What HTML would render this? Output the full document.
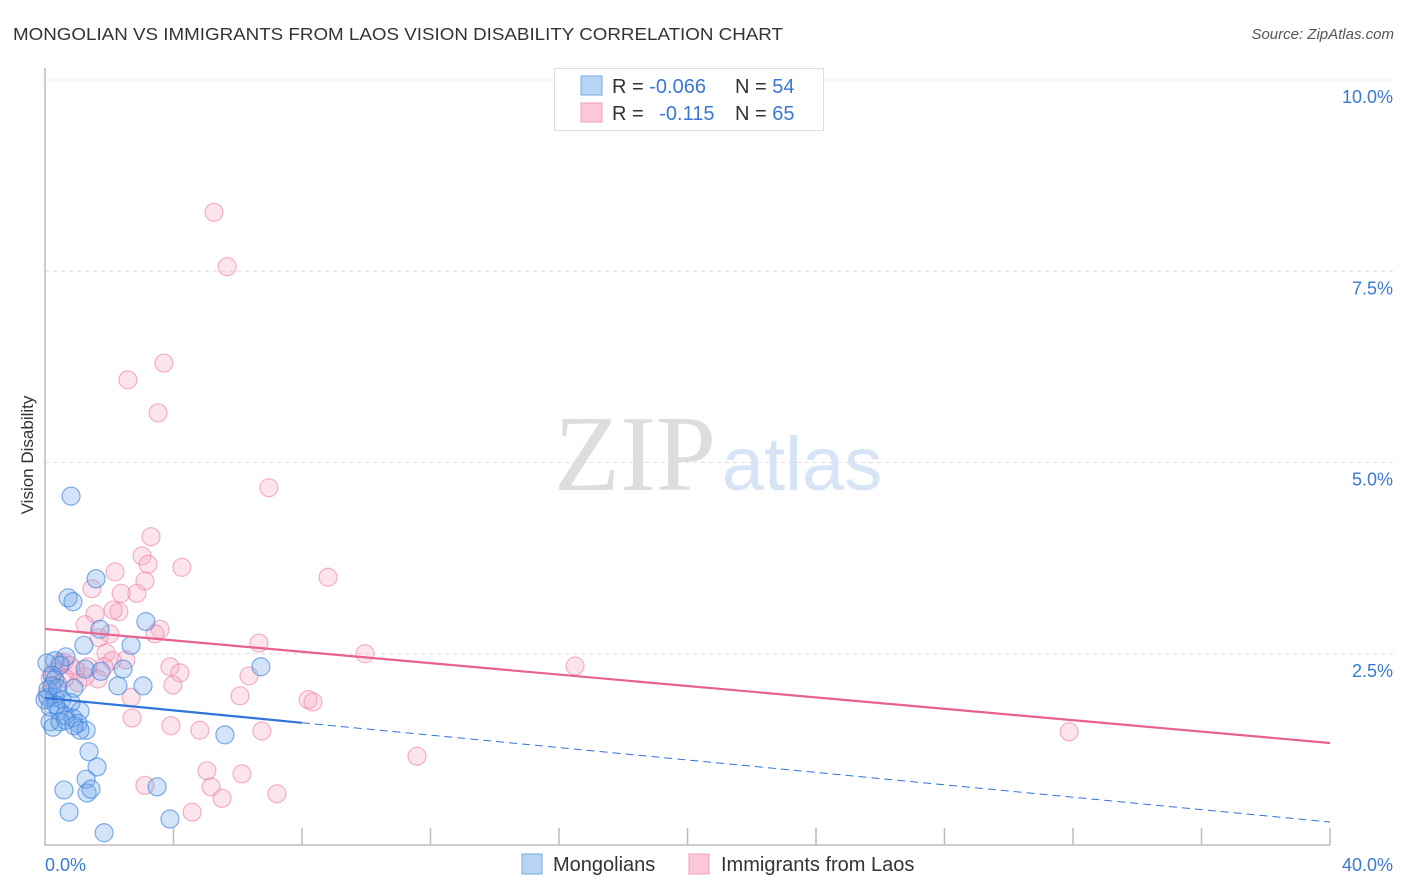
<!DOCTYPE html>
<html><head><meta charset="utf-8"><style>
body{margin:0;background:#fff;font-family:"Liberation Sans",sans-serif;}
svg{display:block}
</style></head><body>
<svg id="chart" width="1406" height="892">
<text x="13" y="40" font-size="17.5" fill="#333" textLength="770" lengthAdjust="spacingAndGlyphs">MONGOLIAN VS IMMIGRANTS FROM LAOS VISION DISABILITY CORRELATION CHART</text>
<text x="1394" y="39" font-size="15" fill="#555" font-style="italic" text-anchor="end">Source: ZipAtlas.com</text>
<g id="grid"></g>
<text x="635" y="490" font-size="108" fill="#ddd" font-family="Liberation Serif,serif" text-anchor="middle">ZIP</text>
<text x="802" y="490" font-size="76" fill="#d6e4f5" text-anchor="middle">atlas</text>
<g id="marks"></g>
<text x="33" y="455" font-size="17" fill="#333" text-anchor="middle" transform="rotate(-90 33 455)">Vision Disability</text>
<g>
<rect x="554.5" y="68.5" width="269" height="62" fill="#fff" stroke="#ddd"/>
<rect x="581" y="76" width="21" height="19" fill="#b8d4f5" stroke="#7aaae8"/>
<rect x="581" y="103" width="21" height="19" fill="#fcc8d8" stroke="#f0a0b8"/>
<text x="612" y="93" font-size="20" fill="#333">R = <tspan fill="#3a78d4">-0.066</tspan></text>
<text x="735" y="93" font-size="20" fill="#333">N = <tspan fill="#3a78d4">54</tspan></text>
<text x="612" y="120" font-size="20" fill="#333">R = <tspan fill="#3a78d4" dx="10">-0.115</tspan></text>
<text x="735" y="120" font-size="20" fill="#333">N = <tspan fill="#3a78d4">65</tspan></text>
</g>
<g>
<rect x="522" y="854" width="20" height="20" fill="#b8d4f5" stroke="#7aaae8"/>
<text x="553" y="871" font-size="20" fill="#333">Mongolians</text>
<rect x="689" y="854" width="20" height="20" fill="#fcc8d8" stroke="#f0a0b8"/>
<text x="721" y="871" font-size="20" fill="#333">Immigrants from Laos</text>
</g>
</svg>
<script>
const xTickLabels=["0.0%","40.0%"];
const yTicks=[2.5,5.0,7.5,10.0];
const yTickLabels=["2.5%","5.0%","7.5%","10.0%"];
const blueX=[0.81,1.59,0.72,0.87,3.14,1.71,2.68,1.21,0.65,0.31,0.47,2.43,6.72,1.25,1.74,0.06,0.22,0.90,2.27,3.05,0.31,0.09,0.31,0.53,0.16,0.81,1.09,0.44,0.62,0.87,1.03,1.28,1.09,0.16,0.25,5.60,0.47,1.37,1.62,1.28,0.59,1.31,1.43,3.49,0.75,1.84,3.89,0.09,0.22,0.40,0.65,0.90,0.34,0.0];
const blueY=[4.56,3.48,3.23,3.18,2.92,2.82,2.61,2.61,2.46,2.41,2.35,2.30,2.33,2.30,2.27,2.38,2.22,2.05,2.08,2.08,2.16,1.93,1.93,1.90,1.80,1.86,1.75,1.75,1.69,1.66,1.59,1.50,1.50,1.61,1.54,1.44,1.61,1.22,1.02,0.86,0.72,0.68,0.73,0.76,0.43,0.16,0.34,2.03,2.08,2.05,1.63,1.56,1.83,1.90];
const pinkX=[5.26,5.67,3.70,2.58,3.52,6.97,3.30,3.02,3.21,4.26,2.18,8.81,3.11,1.46,2.86,2.37,1.56,2.30,3.58,1.25,2.02,1.68,3.42,6.66,9.96,16.50,0.59,0.78,0.47,0.96,0.28,1.90,2.09,2.52,3.89,4.20,0.16,1.65,0.62,6.35,1.84,1.25,3.98,6.07,2.68,8.19,8.34,2.71,3.92,4.82,6.75,31.88,11.58,5.04,3.11,6.13,5.17,5.51,7.22,4.58,1.34,1.03,0.40,0.06,2.12];
const pinkY=[8.27,7.56,6.30,6.08,5.65,4.67,4.03,3.78,3.67,3.63,3.57,3.50,3.45,3.35,3.29,3.29,3.02,3.05,2.82,2.88,2.76,2.71,2.76,2.64,2.50,2.34,2.39,2.35,2.38,2.29,2.26,2.51,2.41,2.42,2.33,2.25,2.18,2.17,2.18,2.21,2.33,2.20,2.09,1.95,1.93,1.90,1.87,1.66,1.56,1.50,1.49,1.48,1.16,0.97,0.78,0.93,0.76,0.61,0.67,0.43,2.33,2.12,2.10,1.96,3.07];
const blueTrend=[1.922,0.30];
const pinkTrend=[2.824,1.333];
const blueSolidEnd=8;
const NS="http://www.w3.org/2000/svg";
const sx=v=>45+v/40*1285;
const sy=v=>845-v*76.5;
function mk(tag,attrs,parent){const e=document.createElementNS(NS,tag);for(const k in attrs)e.setAttribute(k,attrs[k]);parent.appendChild(e);return e;}
const grid=document.getElementById('grid');
const marks=document.getElementById('marks');
yTicks.forEach((t,i)=>{
  const l=mk('line',{x1:45,x2:1395,y1:sy(t),y2:sy(t),stroke:'#ddd','stroke-dasharray':'4 4'},grid);
  
  
  const tx=mk('text',{x:1393,y:sy(t)+23,'font-size':18,fill:'#3a78d4','text-anchor':'end'},grid);
  tx.textContent=yTickLabels[i];
  
  
});
const ax=mk('path',{d:'M45 68V845H1330',fill:'none',stroke:'#bbb','stroke-width':1.5},grid);


for(let i=1;i<=10;i++){
  const t=mk('line',{x1:sx(i*4),x2:sx(i*4),y1:828,y2:845,stroke:'#bbb','stroke-width':1.5},grid);
  
  
}
const xl0=mk('text',{x:45,y:871,'font-size':18,fill:'#3a78d4'},grid);xl0.textContent=xTickLabels[0];


const xl1=mk('text',{x:1393,y:871,'font-size':18,fill:'#3a78d4','text-anchor':'end'},grid);xl1.textContent=xTickLabels[1];


pinkX.forEach((x,i)=>{
  const c=mk('circle',{cx:sx(x),cy:sy(pinkY[i]),r:9,fill:'rgba(246,165,192,0.3)',stroke:'rgba(236,130,165,0.6)','stroke-width':1.2},marks);
  
  
});
blueX.forEach((x,i)=>{
  const c=mk('circle',{cx:sx(x),cy:sy(blueY[i]),r:9,fill:'rgba(110,165,235,0.3)',stroke:'rgba(60,130,220,0.65)','stroke-width':1.2},marks);
  
  
});
const by=x=>blueTrend[0]+(blueTrend[1]-blueTrend[0])*x/40;
const pl=mk('line',{x1:sx(0),y1:sy(pinkTrend[0]),x2:sx(40),y2:sy(pinkTrend[1]),stroke:'#e8628f','stroke-width':2.2},marks);


const bl=mk('line',{x1:sx(0),y1:sy(by(0)),x2:sx(blueSolidEnd),y2:sy(by(blueSolidEnd)),stroke:'#2f74d8','stroke-width':2.2},marks);


const bd=mk('line',{x1:sx(blueSolidEnd),y1:sy(by(blueSolidEnd)),x2:sx(40),y2:sy(by(40)),stroke:'#2f74d8','stroke-width':1,'stroke-dasharray':'8 5'},marks);


</script>
</body></html>
